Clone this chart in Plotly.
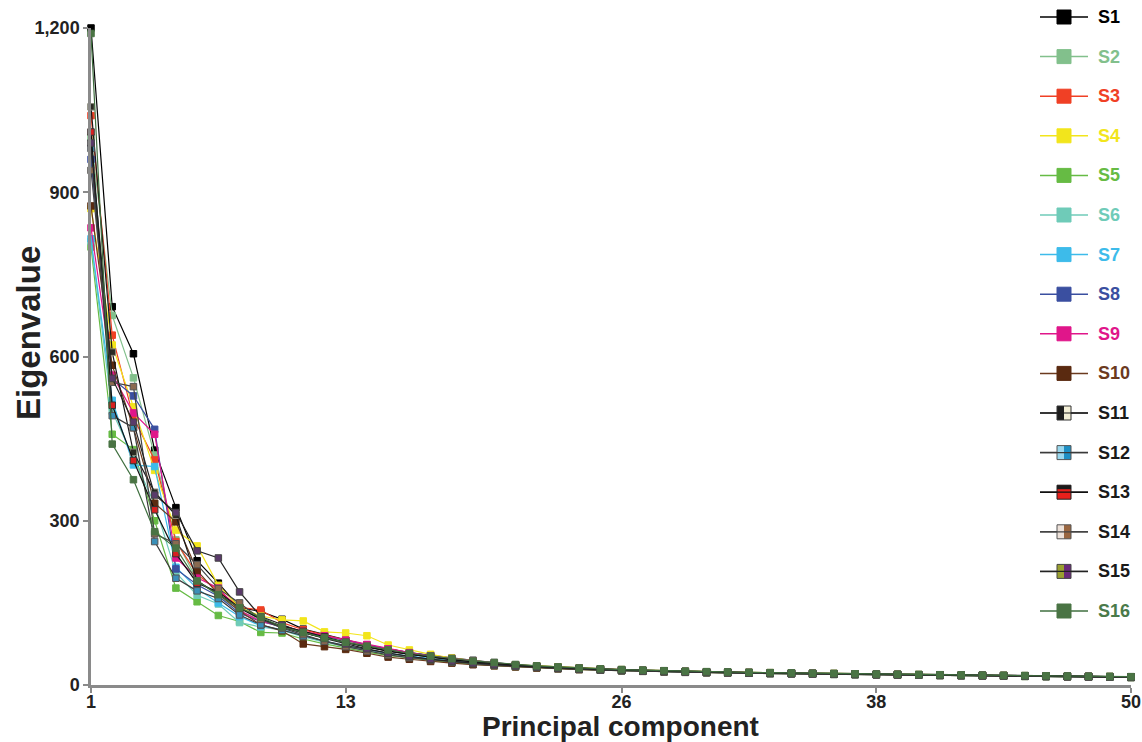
import plotly.graph_objects as go

components = list(range(1, 51))
x_tick_vals = [1, 13, 26, 38, 50]
y_tick_vals = [0, 300, 600, 900, 1200]
series_names = ["S1", "S2", "S3", "S4", "S5", "S6", "S7", "S8",
                "S9", "S10", "S11", "S12", "S13", "S14", "S15", "S16"]

S1 = [1200, 691, 605, 429, 324, 227, 186, 142, 134, 120,
      102, 92, 82, 73, 66, 59, 54, 49, 45, 41,
      37, 35, 33, 31, 29.5, 28, 27, 26, 25, 24,
      23.5, 23, 22.5, 22, 21.5, 21, 20.5, 20, 19.5, 19,
      18.7, 18.3, 17.9, 17.5, 17.1, 16.7, 16.3, 15.9, 15.5, 15.1]
S2 = [1000, 675, 561, 420, 265, 192, 162, 136, 118, 106,
      96, 86, 78, 71, 64, 58, 53, 48, 44, 40,
      36.5, 34, 32, 30.5, 29, 27.5, 26.5, 25.5, 24.5, 23.5,
      23, 22.5, 22, 21.5, 21, 20.5, 20, 19.5, 19, 18.6,
      18.2, 17.8, 17.4, 17, 16.6, 16.2, 15.8, 15.4, 15, 14.6]
S3 = [1040, 639, 488, 411, 262, 202, 172, 142, 137, 114,
      101, 91, 81, 72, 65, 58, 52, 47, 43, 39,
      36, 33.5, 31.5, 30, 28.5, 27, 26, 25, 24, 23,
      22.5, 22, 21.5, 21, 20.5, 20, 19.6, 19.2, 18.8, 18.4,
      18, 17.6, 17.2, 16.8, 16.4, 16, 15.6, 15.2, 14.8, 14.4]
S4 = [870, 621, 508, 392, 283, 254, 182, 142, 126, 119,
      117, 97, 95, 90, 73, 64, 56, 49, 44, 40,
      37, 35, 33, 31, 29.5, 28, 27, 26, 25, 24,
      23.5, 23, 22.5, 22, 21.5, 21, 20.5, 20, 19.5, 19,
      18.6, 18.2, 17.8, 17.4, 17, 16.6, 16.2, 15.8, 15.4, 15]
S5 = [800, 458, 430, 300, 177, 152, 127, 116, 96, 95,
      84, 75, 67, 60, 54, 49, 45, 41, 38, 35.5,
      33.5, 31.5, 30, 28.5, 27, 26, 25, 24, 23.2, 22.5,
      22, 21.5, 21, 20.5, 20, 19.5, 19, 18.6, 18.2, 17.8,
      17.4, 17, 16.6, 16.2, 15.8, 15.4, 15, 14.6, 14.2, 13.8]
S6 = [810, 500, 415, 330, 205, 164, 148, 114, 106, 100,
      88, 78, 70, 63, 57, 52, 47, 43, 40, 37,
      34.5, 32.5, 30.5, 29, 27.5, 26.5, 25.5, 24.5, 23.5, 22.8,
      22.2, 21.6, 21, 20.5, 20, 19.5, 19.1, 18.7, 18.3, 17.9,
      17.5, 17.1, 16.7, 16.3, 15.9, 15.5, 15.1, 14.7, 14.3, 13.9]
S7 = [815, 520, 402, 399, 215, 176, 150, 125, 108, 101,
      90, 80, 72, 65, 58, 53, 48, 44, 40, 37,
      34.5, 32.5, 31, 29.5, 28, 27, 26, 25, 24, 23.2,
      22.6, 22, 21.5, 21, 20.5, 20, 19.5, 19.1, 18.7, 18.3,
      17.9, 17.5, 17.1, 16.7, 16.3, 15.9, 15.5, 15.1, 14.7, 14.3]
S8 = [960, 560, 528, 467, 212, 183, 162, 131, 116, 106,
      96, 89, 81, 73, 66, 59, 53, 48, 44, 40,
      36.5, 34, 32, 30.5, 29, 27.8, 26.8, 25.8, 24.8, 24,
      23.4, 22.8, 22.2, 21.7, 21.2, 20.7, 20.2, 19.7, 19.2, 18.8,
      18.4, 18, 17.6, 17.2, 16.8, 16.4, 16, 15.6, 15.2, 14.8]
S9 = [835, 566, 497, 458, 232, 196, 177, 136, 116, 108,
      98, 90, 82, 74, 66, 59, 53, 48, 44, 40,
      36.5, 34, 32, 30.5, 29, 27.6, 26.6, 25.6, 24.6, 23.8,
      23.2, 22.6, 22, 21.5, 21, 20.5, 20, 19.5, 19, 18.6,
      18.2, 17.8, 17.4, 17, 16.6, 16.2, 15.8, 15.4, 15, 14.6]
S10 = [875, 584, 470, 332, 298, 209, 166, 135, 110, 99,
       75, 70, 65, 58, 51, 47, 43, 40, 37, 35,
       33, 31, 29.5, 28, 27, 26, 25, 24, 23.2, 22.5,
       22, 21.5, 21, 20.5, 20, 19.5, 19, 18.6, 18.2, 17.8,
       17.4, 17, 16.6, 16.2, 15.8, 15.4, 15, 14.6, 14.2, 13.8]
S11 = [1056, 608, 425, 352, 310, 190, 166, 140, 121, 105,
       95, 86, 77, 69, 62, 56, 51, 46, 42, 39,
       36, 34, 32, 30.5, 29, 27.8, 26.8, 25.8, 24.8, 24,
       23.4, 22.8, 22.2, 21.7, 21.2, 20.7, 20.2, 19.7, 19.3, 18.9,
       18.5, 18.1, 17.7, 17.3, 16.9, 16.5, 16.1, 15.7, 15.3, 14.9]
S12 = [980, 492, 470, 262, 195, 172, 158, 128, 110, 100,
       89, 80, 72, 65, 58, 52, 47, 43, 40, 37,
       34.5, 32.5, 30.5, 29, 27.5, 26.3, 25.3, 24.3, 23.5, 22.8,
       22.2, 21.6, 21, 20.5, 20, 19.6, 19.2, 18.8, 18.4, 18,
       17.6, 17.2, 16.8, 16.4, 16, 15.6, 15.2, 14.8, 14.4, 14]
S13 = [1010, 511, 410, 320, 240, 186, 170, 141, 120, 108,
       98, 88, 78, 70, 62, 56, 51, 46, 42, 39,
       36, 34, 32, 30.5, 29, 27.5, 26.5, 25.5, 24.5, 23.7,
       23.1, 22.5, 22, 21.5, 21, 20.5, 20, 19.5, 19.1, 18.7,
       18.3, 17.9, 17.5, 17.1, 16.7, 16.3, 15.9, 15.5, 15.1, 14.7]
S14 = [940, 553, 545, 276, 258, 220, 176, 150, 120, 104,
       92, 80, 70, 62, 55, 50, 46, 42, 39, 36,
       34, 32, 30, 28.5, 27.2, 26, 25, 24, 23.2, 22.5,
       22, 21.4, 20.9, 20.4, 19.9, 19.4, 19, 18.6, 18.2, 17.8,
       17.4, 17, 16.6, 16.2, 15.8, 15.4, 15, 14.6, 14.2, 13.8]
S15 = [990, 560, 480, 347, 315, 245, 232, 170, 125, 110,
       96, 85, 75, 66, 58, 52, 47, 43, 40, 37,
       35, 33, 31, 29.5, 28, 27, 26, 25, 24.2, 23.5,
       22.9, 22.3, 21.8, 21.3, 20.8, 20.3, 19.8, 19.4, 19, 18.6,
       18.2, 17.8, 17.4, 17, 16.6, 16.2, 15.8, 15.4, 15, 14.6]
S16 = [1190, 440, 375, 280, 250, 190, 165, 141, 124, 106,
       96, 86, 78, 71, 64, 58, 53, 48, 44, 41,
       37.5, 35, 33, 31, 29.5, 28.2, 27.2, 26.2, 25.2, 24.4,
       23.8, 23.2, 22.6, 22, 21.5, 21, 20.5, 20, 19.6, 19.2,
       18.8, 18.4, 18, 17.6, 17.2, 16.8, 16.4, 16, 15.6, 15.2]

series_values = [S1, S2, S3, S4, S5, S6, S7, S8, S9, S10, S11, S12, S13, S14, S15, S16]

line_colors = ["#000000", "#82c08c", "#f04025", "#f2e51c", "#66bb44", "#6fcbb8",
               "#3dbbea", "#3a4fa0", "#e0168a", "#6b3a1e", "#1a1a1a", "#3a3a3a",
               "#111111", "#444444", "#222222", "#3f6f3f"]
marker_colors = ["#000000", "#82c08c", "#f04025", "#f2e51c", "#66bb44", "#6fcbb8",
                 "#3dbbea", "#3a4fa0", "#e0168a", "#5a2a10", "#2a2a22", "#3a8fb8",
                 "#d82020", "#8a6a50", "#5a3a6a", "#4a7444"]
marker_edges = ["#000000", "#82c08c", "#f04025", "#f2e51c", "#66bb44", "#6fcbb8",
                "#3dbbea", "#3a4fa0", "#e0168a", "#5a2a10", "#888878", "#555555",
                "#333333", "#555555", "#444444", "#4a7444"]
text_colors = ["#000000", "#82c08c", "#f04025", "#f2e51c", "#66bb44", "#6fcbb8",
               "#3dbbea", "#3a4fa0", "#e0168a", "#6b3a1e", "#1a1a1a", "#1a1a1a",
               "#1a1a1a", "#1a1a1a", "#1a1a1a", "#4a7a4a"]
# legend swatch: (left half colour, right half colour)
swatch_colors = [("#000000", "#000000"), ("#82c08c", "#82c08c"), ("#f04025", "#f04025"),
                 ("#f2e51c", "#f2e51c"), ("#66bb44", "#66bb44"), ("#6fcbb8", "#6fcbb8"),
                 ("#3dbbea", "#3dbbea"), ("#3a4fa0", "#3a4fa0"), ("#e0168a", "#e0168a"),
                 ("#5a2a10", "#5a2a10"), ("#1e1e1e", "#f3efd6"), ("#9ad8ee", "#1d8fc4"),
                 ("#e8201c", "#e8201c"), ("#eee2da", "#9a6640"), ("#9aa030", "#6a2a7a"),
                 ("#4a7444", "#4a7444")]
swatch_edges = ["#000000", "#82c08c", "#f04025", "#f2e51c", "#66bb44", "#6fcbb8",
                "#3dbbea", "#3a4fa0", "#e0168a", "#5a2a10", "#333333", "#555555",
                "#222222", "#555555", "#444444", "#4a7444"]

FONT = "Arial, Liberation Sans, sans-serif"

# plot area in pixels
L, R, T, B = 91, 1131, 28, 685
W, H = R - L, B - T


def px(xp):
    return (xp - L) / W


def py(yp):
    return (B - yp) / H


fig = go.Figure()
for i, (name, vals) in enumerate(zip(series_names, series_values)):
    fig.add_trace(go.Scatter(
        x=components, y=vals, mode="lines+markers", name=name,
        showlegend=False,
        line=dict(color=line_colors[i], width=1.2),
        marker=dict(symbol="square", size=6.5, color=marker_colors[i],
                    line=dict(color=marker_edges[i], width=1)),
        cliponaxis=False,
    ))

shapes = []
annotations = []
for i, name in enumerate(series_names):
    yc = 17 + 39.6 * i
    shapes.append(dict(type="line", xref="paper", yref="paper",
                       x0=px(1040), x1=px(1088), y0=py(yc), y1=py(yc),
                       line=dict(color=line_colors[i], width=1.5), layer="above"))
    lc, rc = swatch_colors[i]
    shapes.append(dict(type="rect", xref="paper", yref="paper",
                       x0=px(1057), x1=px(1064), y0=py(yc + 7), y1=py(yc - 7),
                       fillcolor=lc, line=dict(width=0), layer="above"))
    shapes.append(dict(type="rect", xref="paper", yref="paper",
                       x0=px(1064), x1=px(1071), y0=py(yc + 7), y1=py(yc - 7),
                       fillcolor=rc, line=dict(width=0), layer="above"))
    if i == 12:
        shapes.append(dict(type="rect", xref="paper", yref="paper",
                           x0=px(1057), x1=px(1071), y0=py(yc - 3), y1=py(yc - 7),
                           fillcolor="#1b1b1b", line=dict(width=0), layer="above"))
    shapes.append(dict(type="rect", xref="paper", yref="paper",
                       x0=px(1057), x1=px(1071), y0=py(yc + 7), y1=py(yc - 7),
                       fillcolor="rgba(0,0,0,0)",
                       line=dict(color=swatch_edges[i], width=1), layer="above"))
    if 10 <= i <= 14:
        shapes.append(dict(type="line", xref="paper", yref="paper",
                           x0=px(1040), x1=px(1088), y0=py(yc), y1=py(yc),
                           line=dict(color=line_colors[i], width=1.2), layer="above"))
    annotations.append(dict(xref="paper", yref="paper", x=px(1096), y=py(yc),
                            xanchor="left", yanchor="middle", showarrow=False,
                            text=f"<b>{name}</b>",
                            font=dict(family=FONT, size=18, color=text_colors[i])))

annotations.append(dict(xref="paper", yref="paper", x=px(28), y=py(333),
                        xanchor="center", yanchor="middle", showarrow=False,
                        textangle=-90, text="<b>Eigenvalue</b>",
                        font=dict(family=FONT, size=33, color="#222222")))
annotations.append(dict(xref="paper", yref="paper", x=px(620), y=py(726),
                        xanchor="center", yanchor="middle", showarrow=False,
                        text="<b>Principal component</b>",
                        font=dict(family=FONT, size=28, color="#222222")))

axis_common = dict(
    showline=True, linecolor="#8a8a8a", linewidth=2.5,
    ticks="outside", ticklen=5, tickwidth=1.5, tickcolor="#8a8a8a",
    showgrid=False, zeroline=False, automargin=False,
    tickfont=dict(family=FONT, size=18, color="#222222", weight="bold"),
)

fig.update_layout(
    width=1142, height=742,
    margin=dict(l=L, r=1142 - R, t=T, b=742 - B, autoexpand=False),
    paper_bgcolor="white", plot_bgcolor="white",
    font=dict(family=FONT),
    xaxis=dict(range=[1, 50], tickvals=x_tick_vals, ticktext=[str(v) for v in x_tick_vals],
               ticklabelstandoff=-6, **axis_common),
    yaxis=dict(range=[0, 1200], tickvals=y_tick_vals, tickformat=",",
               **axis_common),
    shapes=shapes,
    annotations=annotations,
    showlegend=False,
)

fig.write_html("out.html")
